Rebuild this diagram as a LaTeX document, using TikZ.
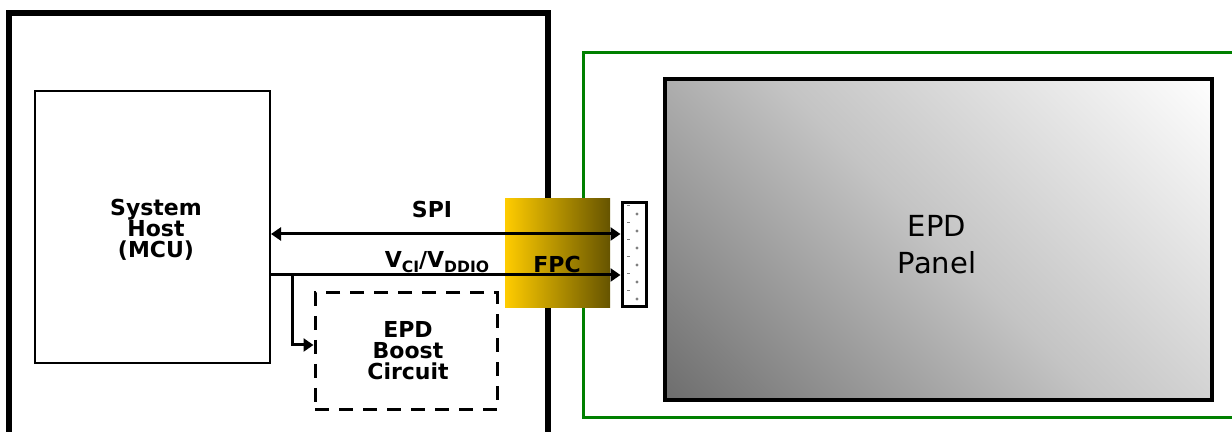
\documentclass[tikz,border=0pt]{standalone}
\usepackage{fontspec}
\setmainfont{DejaVu Sans}
\usetikzlibrary{arrows.meta}
\definecolor{fpcgold}{HTML}{FFCC00}
\definecolor{fpcdark}{HTML}{665400}
\definecolor{boardgreen}{HTML}{008000}
\definecolor{paneldark}{HTML}{6C6C6C}
\definecolor{panelmid}{HTML}{C4C4C4}
\definecolor{panellight}{HTML}{FFFFFF}
\pgfdeclareverticalshading{panelshade}{100bp}{color(0bp)=(paneldark); color(14bp)=(paneldark); color(50bp)=(panelmid); color(86bp)=(panellight); color(100bp)=(panellight)}
\newcommand{\lowsub}[1]{\raisebox{-0.35ex}{\fontsize{7.8}{7.8}\selectfont #1}}

\begin{document}
\begin{tikzpicture}[x=0.5pt, y=-0.5pt, >={Triangle[length=5pt, width=6.5pt]},
        box/.style={rectangle, draw, line width=1pt, inner sep=0pt, align=center},
        lbl/.style={font=\bfseries\fontsize{11}{10.5}\selectfont, align=center},
        sig/.style={line width=1.5pt, ->}]
        \clip (0,0) rectangle (1232,432);

        % Define boards
        \draw[line width=3pt] (9,470) -- (9,13) -- (548,13) -- (548,470);
        \draw[boardgreen, line width=1.5pt] (1260,53) -- (583,53) -- (583,418) -- (1260,418);

        % Define blocks
        \node[box, minimum width=117.5pt, minimum height=136pt, lbl] (host) at (152.5,227) {};
        \node[lbl] (hostlbl) at (156,230) {System\\Host\\(MCU)};
        \node[box, line width=1.5pt, dash pattern=on 7pt off 5pt, minimum width=91pt, minimum height=58.5pt] (boost) at (406,351.5) {};
        \node[lbl] (boostlbl) at (408,351) {EPD\\Boost\\Circuit};
        \node[rectangle, inner sep=0pt, left color=fpcgold, right color=fpcdark, minimum width=52.5pt, minimum height=54.5pt] (fpc) at (557.5,253.5) {};
        \node[lbl] (fpclbl) at (557,264) {FPC};
        \node[box, fill=white, line width=1.5pt, minimum width=12pt, minimum height=52pt] (strip) at (634,255) {};
        \foreach \k in {0,...,5} {
            \fill[gray] (627,205+17*\k) rectangle ++(3,1.2);
            \fill[gray] (637,214+17*\k) circle (0.8pt);
        }
        \node[box, line width=2pt, shading=panelshade, shading angle=-45, minimum width=273.5pt, minimum height=160.5pt] (panel) at (938.5,239.5) {};
        \node[font=\fontsize{14.5}{18.5}\selectfont, align=center] (panellbl) at (937,245) {EPD\\Panel};

        % Draw signals
        \coordinate (spi) at (0,234);
        \coordinate (vci) at (0,275);
        \coordinate (tap) at (292,275);
        \coordinate (boostin) at (0,345);
        \draw[sig, <->] (host.east |- spi) -- (strip.west |- spi);
        \draw[sig] (host.east |- vci) -- (strip.west |- vci);
        \draw[sig] (tap) |- (boost.west |- boostin);
        \node[lbl] (spilbl) at (432,209) {SPI};
        \node[lbl] (vcilbl) at (437,262) {V\lowsub{CI}/V\lowsub{DDIO}};
    \end{tikzpicture}
\end{document}
